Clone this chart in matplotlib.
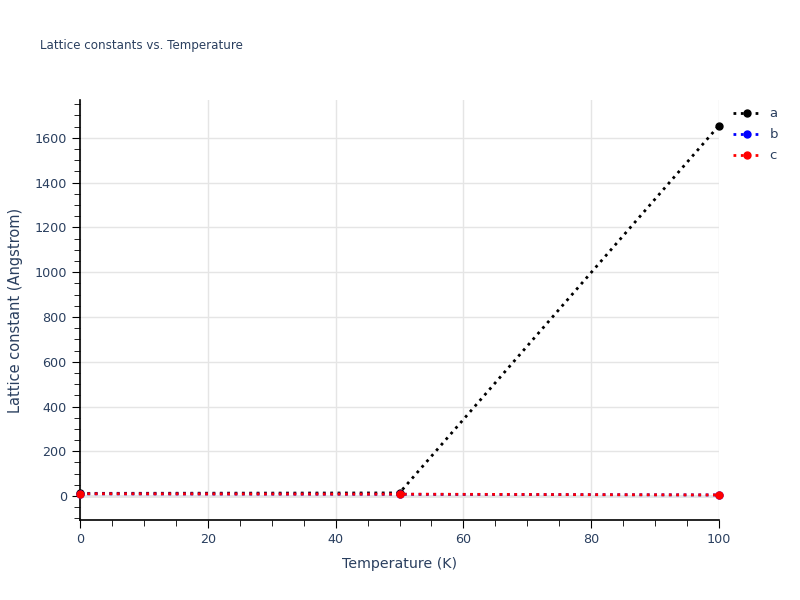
import matplotlib
matplotlib.use("Agg")
import matplotlib.pyplot as plt
from matplotlib.ticker import MultipleLocator

temperature = [0, 50, 100]
a_vals = [12, 14, 1655]
b_vals = [10, 8, 5]
c_vals = [10.5, 8.5, 5]

series = [("a", a_vals, "black"), ("b", b_vals, "blue"), ("c", c_vals, "red")]

txt = "#2a3f5f"
fig = plt.figure(figsize=(8, 6), dpi=100)
ax = fig.add_axes([0.1, 0.1333, 0.79875, 0.7])

for name, vals, col in series:
    ax.plot(temperature, vals, linestyle=":", color=col, linewidth=2,
            marker="o", markersize=5, label=name, clip_on=False, zorder=3)

ax.set_xlim(0, 100)
ax.set_ylim(-107, 1769)
ax.xaxis.set_major_locator(MultipleLocator(20))
ax.xaxis.set_minor_locator(MultipleLocator(5))
ax.yaxis.set_major_locator(MultipleLocator(200))
ax.yaxis.set_minor_locator(MultipleLocator(50))
ax.grid(True, which="major", color="#e5e5e5", linewidth=1, zorder=0)
ax.axhline(0, color="#e5e5e5", linewidth=2, zorder=1)
for s in ["top", "right"]:
    ax.spines[s].set_visible(False)
for s in ["left", "bottom"]:
    ax.spines[s].set_color("black")
    ax.spines[s].set_linewidth(1.2)
ax.tick_params(which="major", direction="out", length=6, color="black", labelcolor=txt, labelsize=9.2)
ax.tick_params(which="minor", direction="out", length=4, color="black")
ax.set_xlabel("Temperature (K)", color=txt, fontsize=10.2, labelpad=8)
ax.set_ylabel("Lattice constant (Angstrom)", color=txt, fontsize=10.5, labelpad=8)

fig.text(0.05, 1 - 45 / 600, "Lattice constants vs. Temperature", color=txt,
         fontsize=8.6, va="center", ha="left")

leg = ax.legend(loc="upper left", bbox_to_anchor=(1.013, 0.995), frameon=False,
                fontsize=9.5, labelcolor=txt, handlelength=2.2, handletextpad=0.6,
                borderaxespad=0.0, labelspacing=0.6)

fig.savefig("out.png", dpi=100)
